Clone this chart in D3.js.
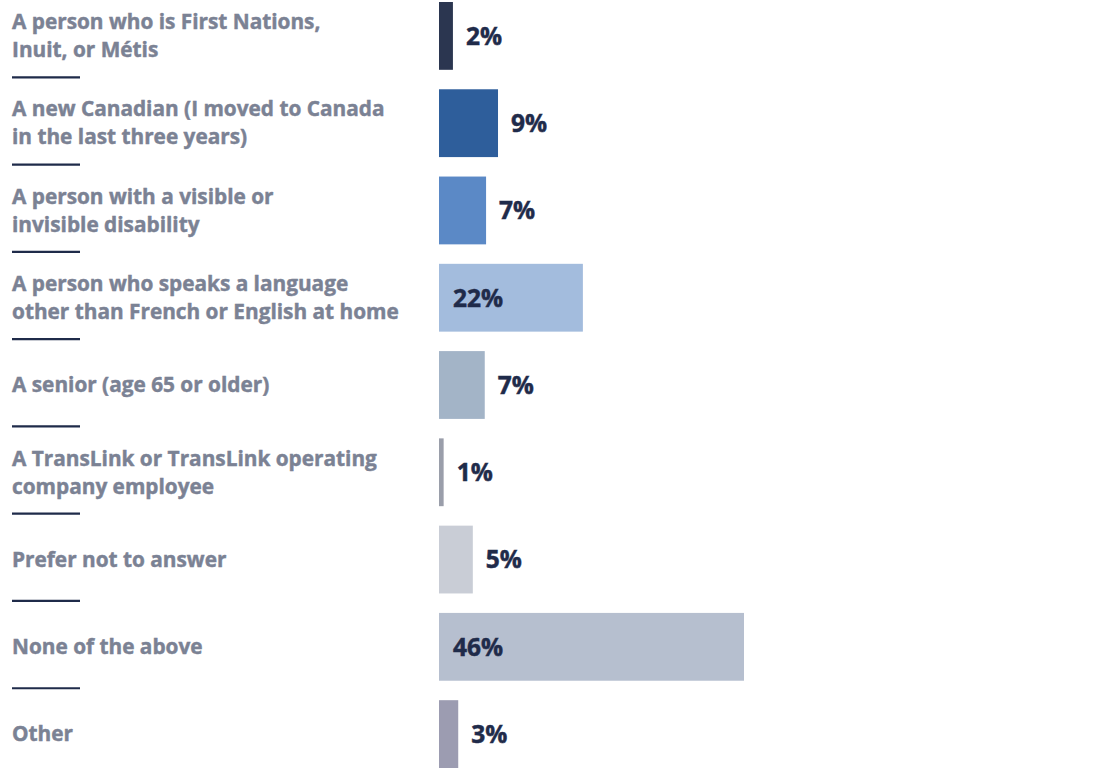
<!DOCTYPE html>
<html>
<head>
<meta charset="utf-8">
<script src="https://cdn.jsdelivr.net/npm/d3@7"></script>
<style>
  body { margin: 0; background: #fff; }
  svg { display: block; }
</style>
</head>
<body>
<script>
const WIDTH = 1098;
const HEIGHT = 784;
const BAR_X = 439;

const categories = [
    ["A person who is First Nations,", "Inuit, or Métis"],
    ["A new Canadian (I moved to Canada", "in the last three years)"],
    ["A person with a visible or", "invisible disability"],
    ["A person who speaks a language", "other than French or English at home"],
    ["A senior (age 65 or older)"],
    ["A TransLink or TransLink operating", "company employee"],
    ["Prefer not to answer"],
    ["None of the above"],
    ["Other"]
];
const values = [2.1, 8.9, 7.1, 21.7, 6.9, 0.7, 5.1, 46, 2.9];
const valueLabels = ["2%", "9%", "7%", "22%", "7%", "1%", "5%", "46%", "3%"];
const colors = ["#2b3650", "#2e5e9b", "#5b89c6", "#a3bcdd", "#a3b4c7", "#9a9eaa", "#c9cdd6", "#b6bfcf", "#9c9cb1"];

const svg = d3.select("body").append("svg")
    .attr("width", WIDTH)
    .attr("height", HEIGHT);

const y = d3.scaleBand()
    .domain(d3.range(categories.length))
    .range([2, 768])
    .paddingInner(0.223)
    .paddingOuter(0);

const x = d3.scaleLinear()
    .domain([0, 46])
    .range([0, 305]);

const rows = svg.selectAll("g.row")
    .data(categories.map((c, i) => ({lines: c, v: values[i], label: valueLabels[i], color: colors[i], i: i})))
    .enter().append("g")
    .attr("class", "row");

rows.append("rect")
    .attr("x", BAR_X)
    .attr("y", d => y(d.i))
    .attr("width", d => x(d.v))
    .attr("height", y.bandwidth())
    .attr("fill", d => d.color);

// value labels: inside the bar if it is wide, else after the end
rows.append("text")
    .attr("x", d => x(d.v) > 100 ? BAR_X + 14 : BAR_X + x(d.v) + 13)
    .attr("y", d => y(d.i) + y.bandwidth() / 2)
    .attr("dy", "0.36em")
    .style("font-family", "'Open Sans', sans-serif")
    .style("font-weight", "bold")
    .style("font-size", "24.5px")
    .attr("fill", "#1f2b4a")
    .attr("stroke", "#1f2b4a")
    .attr("stroke-width", 0.5)
    .text(d => d.label);

// category labels
const LINE_H = 28;
rows.append("text")
    .style("font-family", "'Open Sans', sans-serif")
    .style("font-weight", "bold")
    .style("font-size", "20.8px")
    .attr("fill", "#7b8294")
    .attr("stroke", "#7b8294")
    .attr("stroke-width", 0.45)
    .each(function (d) {
        const cy = y(d.i) + y.bandwidth() / 2;
        const top = cy - (d.lines.length - 1) * LINE_H / 2;
        d3.select(this).selectAll("tspan")
            .data(d.lines).enter()
            .append("tspan")
            .attr("x", 12)
            .attr("y", (l, j) => top + j * LINE_H)
            .attr("dy", "0.35em")
            .text(l => l);
    });

// short separator under every row but the last
rows.filter(d => d.i < categories.length - 1)
    .append("line")
    .attr("x1", 12)
    .attr("x2", 80)
    .attr("y1", d => y(d.i) + y.bandwidth() + 7.5)
    .attr("y2", d => y(d.i) + y.bandwidth() + 7.5)
    .attr("stroke", "#1f2b4a")
    .attr("stroke-width", 2.2);
</script>
</body>
</html>
